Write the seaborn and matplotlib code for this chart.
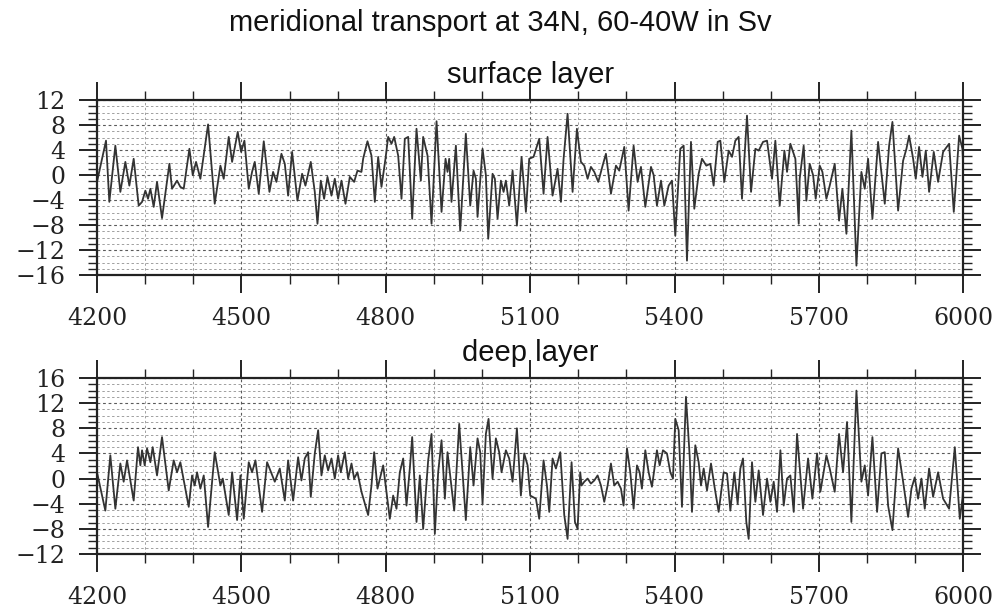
import matplotlib
matplotlib.use("Agg")
import matplotlib.pyplot as plt
from matplotlib.ticker import MultipleLocator
import seaborn as sns
import pandas as pd

# Surface layer transport (Sv) by model year
surface_year = [
    4200, 4218.7, 4225.6, 4238.1, 4248.5, 4258.9, 4267.2, 4276.2, 4286.6, 4293.6,
    4300.5, 4306.0, 4310.9, 4317.8, 4324.7, 4335.1, 4350.4, 4355.9, 4366.3, 4373.2,
    4380.2, 4392.0, 4398.9, 4405.8, 4414.8, 4430.8, 4444.6, 4456.4, 4463.3, 4473.7,
    4480.7, 4492.4, 4499.4, 4506.3, 4515.3, 4522.2, 4527.8, 4536.1, 4546.5, 4558.3,
    4565.9, 4572.8, 4583.2, 4590.2, 4597.1, 4605.4, 4616.5, 4626.2, 4633.1, 4644.2,
    4652.5, 4658.1, 4665.0, 4671.9, 4678.9, 4687.2, 4694.1, 4701.0, 4708.0, 4716.3,
    4725.3, 4734.3, 4741.2, 4749.5, 4753.0, 4762.0, 4770.3, 4777.3, 4784.2, 4791.1,
    4799.4, 4805.0, 4811.9, 4817.5, 4825.8, 4832.7, 4839.6, 4846.6, 4854.9, 4863.9,
    4872.9, 4877.7, 4886.8, 4895.1, 4905.5, 4915.9, 4924.2, 4928.3, 4931.8, 4936.6,
    4945.7, 4954.7, 4966.4, 4975.5, 4982.4, 4987.3, 4990.7, 5001.1, 5008.0, 5012.9,
    5021.9, 5026.7, 5032.3, 5039.2, 5044.8, 5049.6, 5056.5, 5063.5, 5072.5, 5082.2,
    5091.2, 5098.1, 5107.1, 5118.9, 5127.9, 5136.2, 5146.6, 5157.0, 5164.0, 5169.5,
    5177.8, 5188.2, 5197.2, 5205.5, 5212.5, 5219.4, 5226.3, 5233.3, 5241.6, 5250.6,
    5257.5, 5267.9, 5278.3, 5285.2, 5295.6, 5304.6, 5315.0, 5323.3, 5330.3, 5339.3,
    5351.1, 5356.6, 5363.5, 5371.9, 5378.8, 5387.8, 5394.7, 5401.6, 5412.0, 5419.0,
    5425.9, 5434.2, 5441.1, 5450.2, 5457.1, 5466.1, 5474.4, 5481.3, 5489.7, 5495.2,
    5503.5, 5512.5, 5519.5, 5526.4, 5533.3, 5540.2, 5550.6, 5559.0, 5568.0, 5574.9,
    5583.9, 5592.2, 5602.6, 5609.5, 5618.6, 5628.3, 5633.8, 5640.7, 5651.1, 5658.1,
    5660.1, 5668.4, 5674.0, 5680.9, 5687.9, 5693.4, 5701.7, 5707.3, 5715.6, 5722.5,
    5732.9, 5741.9, 5748.8, 5757.2, 5767.5, 5778.0, 5788.3, 5795.3, 5802.2, 5811.2,
    5823.0, 5836.9, 5845.9, 5852.8, 5864.6, 5875.0, 5881.9, 5887.4, 5895.8, 5901.3,
    5908.2, 5915.2, 5922.1, 5929.0, 5938.7, 5947.7, 5958.1, 5970.6, 5980.3, 5991.4,
    5998.3, 6000,
]
surface_sv = [
    -1.1, 5.5, -4.3, 4.7, -2.7, 2.1, -1.7, 2.6, -4.9, -4.3,
    -2.5, -3.8, -2.2, -5.1, -1.1, -6.9, 1.8, -2.2, -0.9, -1.9,
    -2.2, 4.2, 0.0, 2.1, -0.6, 8.1, -4.6, 1.5, -0.6, 6.1,
    2.1, 6.9, 3.7, 5.5, -2.2, 0.5, 2.1, -3.0, 5.4, -2.7,
    0.5, -1.1, 3.4, 1.8, -3.3, 3.7, -4.1, 0.2, -1.7, 2.1,
    -2.7, -7.8, -0.9, -3.8, -0.3, -3.3, -0.6, -3.8, -0.9, -4.6,
    -0.3, -1.1, 0.7, 0.5, 2.6, 5.4, 3.1, -4.3, 2.9, -1.9,
    2.6, 6.1, 5.0, 6.1, 3.1, -3.8, 5.8, 6.1, -7.0, 7.4,
    -0.9, 6.1, 3.1, -7.8, 8.6, -5.9, 2.6, 0.5, 2.6, -4.3,
    4.7, -8.9, 6.6, -4.9, 0.7, -0.6, -6.7, 4.2, 0.0, -10.2,
    0.2, -0.6, -7.0, -0.9, -2.7, -0.9, -4.9, 0.7, -8.1, 2.9,
    -5.9, 2.6, 2.9, 5.8, -3.0, 6.1, -3.3, 1.0, -4.3, 2.6,
    9.8, -2.7, 7.4, 2.1, 1.5, -0.6, 1.3, 0.5, -1.1, 1.5,
    3.4, -3.0, 1.5, 0.7, 4.5, -5.7, 4.7, -1.1, 1.3, -5.1,
    1.3, 0.0, -4.9, -0.9, -4.9, -1.7, -0.9, -9.7, 4.2, 4.7,
    -13.7, 5.3, -5.4, 0.2, 2.6, 1.5, 1.8, -1.7, 5.3, 5.5,
    -1.1, 3.9, 2.9, 5.5, 6.1, -3.8, 9.5, -2.7, 4.2, 3.9,
    5.3, 5.5, -0.6, 5.5, -4.9, 3.9, 0.5, 5.0, 2.6, -7.8,
    -0.6, 4.7, -4.1, 1.8, 0.0, -3.8, 1.5, 0.5, -3.8, -1.7,
    1.8, -7.3, -2.2, -9.4, 7.1, -14.5, 0.5, -2.2, 2.6, -7.0,
    5.3, -4.6, 4.7, 8.5, -5.7, 2.3, 4.2, 6.3, 2.6, -0.6,
    4.5, -0.3, 3.9, -2.7, 3.7, -1.1, 3.7, 5.0, -5.9, 6.3,
    4.2, 1.0,
]

# Deep layer transport (Sv) by model year
deep_year = [
    4200, 4217.3, 4227.7, 4238.1, 4248.5, 4255.4, 4262.4, 4276.2, 4285.2, 4290.1,
    4293.6, 4299.1, 4304.0, 4310.9, 4315.7, 4324.7, 4335.1, 4349.0, 4359.4, 4366.3,
    4373.2, 4390.6, 4397.5, 4403.0, 4407.9, 4414.8, 4421.8, 4430.8, 4444.6, 4456.4,
    4461.3, 4473.7, 4480.7, 4491.1, 4498.0, 4504.9, 4515.3, 4522.2, 4529.2, 4543.0,
    4553.4, 4569.4, 4579.8, 4590.2, 4597.1, 4607.5, 4617.9, 4624.8, 4631.7, 4638.7,
    4644.2, 4652.5, 4659.5, 4666.4, 4673.3, 4680.2, 4687.2, 4694.1, 4701.0, 4706.6,
    4714.9, 4721.8, 4728.8, 4734.3, 4741.2, 4749.5, 4763.4, 4770.3, 4775.9, 4782.8,
    4794.6, 4801.5, 4808.4, 4815.4, 4822.3, 4829.2, 4836.2, 4843.1, 4850.0, 4854.9,
    4863.9, 4870.8, 4877.7, 4888.1, 4895.1, 4902.0, 4908.9, 4915.9, 4922.8, 4928.3,
    4942.2, 4952.6, 4959.5, 4966.4, 4975.5, 4982.4, 4990.7, 4996.3, 5001.1, 5008.0,
    5013.6, 5021.9, 5028.8, 5035.7, 5040.6, 5049.6, 5056.5, 5063.5, 5072.5, 5080.8,
    5087.7, 5094.7, 5100.2, 5112.0, 5118.9, 5127.9, 5134.9, 5139.7, 5146.6, 5153.6,
    5162.6, 5170.9, 5177.8, 5186.1, 5193.1, 5198.6, 5204.1, 5206.9, 5212.5, 5219.4,
    5226.3, 5233.3, 5240.2, 5247.1, 5254.0, 5261.0, 5267.9, 5274.8, 5281.8, 5288.7,
    5294.2, 5301.2, 5308.1, 5315.0, 5322.0, 5327.5, 5332.3, 5339.3, 5346.2, 5353.1,
    5363.5, 5369.1, 5376.0, 5384.3, 5391.3, 5396.8, 5401.6, 5408.6, 5415.5, 5423.8,
    5431.4, 5436.3, 5443.2, 5450.2, 5455.0, 5460.6, 5467.5, 5475.8, 5482.7, 5491.7,
    5502.1, 5509.1, 5516.0, 5524.3, 5531.2, 5536.8, 5542.3, 5549.2, 5554.1, 5561.0,
    5568.0, 5574.9, 5583.9, 5592.2, 5599.2, 5606.1, 5613.0, 5620.0, 5626.9, 5633.8,
    5640.7, 5647.7, 5654.6, 5667.1, 5677.5, 5686.5, 5696.2, 5703.1, 5715.6, 5722.5,
    5732.9, 5741.9, 5750.2, 5758.5, 5767.5, 5778.0, 5788.3, 5795.3, 5802.2, 5811.2,
    5820.9, 5829.9, 5836.9, 5843.8, 5852.8, 5864.6, 5875.0, 5885.4, 5892.3, 5899.2,
    5906.1, 5913.1, 5920.0, 5929.0, 5937.3, 5947.7, 5958.1, 5970.6, 5982.4, 5992.8,
    5998.3, 6000,
]
deep_sv = [
    1.0, -5.1, 3.7, -4.8, 2.4, -0.5, 2.9, -3.5, 5.0, 2.1,
    4.5, 2.1, 4.8, 2.6, 5.0, 0.5, 6.6, -1.9, 2.9, 1.0,
    2.6, -4.5, 0.5, -1.1, 1.0, -1.6, 0.5, -7.7, 4.2, -1.1,
    0.0, -5.8, 1.0, -6.6, 0.5, -6.4, 2.6, 1.0, 2.9, -5.3,
    2.6, -0.5, 1.6, -3.5, 2.9, -3.5, 3.4, -0.3, 3.2, 4.2,
    -2.9, 4.0, 7.7, 0.5, 3.7, 1.3, 3.2, 0.0, 3.7, 1.0,
    4.2, 0.0, 2.4, 0.0, 1.0, -2.1, -5.8, -1.1, 4.2, -1.6,
    2.1, -2.1, -6.4, -2.7, -4.8, 1.0, 3.2, -4.3, 1.6, 6.6,
    -6.9, 0.5, -8.0, 2.9, 7.1, -8.8, 1.0, 6.1, -3.2, 4.2,
    -5.1, 8.7, 1.0, -6.6, 5.0, -1.1, 6.4, 4.2, -4.0, 7.1,
    9.5, 0.0, 6.4, 4.2, 1.0, 4.5, 3.2, -0.5, 8.0, -2.7,
    4.0, 2.1, -2.7, -3.2, -6.4, 2.9, -1.1, -5.3, 3.2, 1.6,
    4.2, -5.8, -9.6, 2.6, -6.9, -8.0, 1.0, -1.1, -0.5, 0.0,
    -0.8, -0.3, 0.5, -1.1, -3.7, -1.1, 2.4, -1.1, -0.5, -1.6,
    -4.3, 4.8, 1.0, -4.8, 2.1, 1.0, -1.6, 4.5, 1.0, -1.3,
    4.5, 2.1, 4.5, 4.0, 1.0, 0.0, 9.5, 7.7, -4.5, 13.0,
    3.7, -5.3, 5.3, 2.6, -1.1, 1.6, -1.9, 2.4, -1.1, -5.3,
    1.0, 0.8, -5.1, 1.0, -4.0, 1.6, 3.2, -6.9, -9.6, 2.6,
    -3.7, 1.3, -5.8, 0.0, -3.7, -0.5, -5.3, 4.5, -4.3, 0.0,
    0.5, -5.3, 7.1, -4.8, 3.2, -3.2, 4.0, -2.1, 3.7, 1.6,
    -2.1, 7.1, 1.0, 9.0, -6.9, 14.0, -0.5, 2.1, -2.7, 6.6,
    -5.3, 4.0, 4.2, -4.3, -8.2, 4.8, -0.5, -6.1, -1.6, 0.2,
    -3.2, 0.0, -4.8, 1.6, -2.9, 1.0, -3.2, -4.8, 5.0, -6.4,
    -3.2, -1.0,
]

main_title = "meridional transport at 34N, 60-40W in Sv"
panel_titles = ["surface layer", "deep layer"]
y_limits = [(-16, 12), (-12, 16)]
x_ticks = [4200, 4500, 4800, 5100, 5400, 5700, 6000]

sns.set_style("white")
plt.rcParams["axes.unicode_minus"] = True

fig = plt.figure(figsize=(9.98, 6.11), dpi=100)
ax_top = fig.add_axes([0.0972, 0.5499, 0.868, 0.2864])
ax_bot = fig.add_axes([0.0972, 0.0933, 0.868, 0.2880])

frames = [
    pd.DataFrame({"year": surface_year, "sv": surface_sv}),
    pd.DataFrame({"year": deep_year, "sv": deep_sv}),
]

for ax, df, title, ylim in zip([ax_top, ax_bot], frames, panel_titles, y_limits):
    sns.lineplot(data=df, x="year", y="sv", ax=ax, color="#333333",
                 linewidth=1.3, sort=False, estimator=None)
    ax.set_xlim(4200, 6000)
    ax.set_ylim(*ylim)
    ax.set_xticks(x_ticks)
    ax.xaxis.set_minor_locator(MultipleLocator(100))
    ax.yaxis.set_major_locator(MultipleLocator(4))
    ax.yaxis.set_minor_locator(MultipleLocator(1))
    ax.set_xlabel("")
    ax.set_ylabel("")

    ax.grid(which="minor", axis="both", color="#a0a0a0", linestyle=(0, (2.5, 2.5)),
            linewidth=0.7)
    ax.grid(which="major", axis="both", color="#5a5a5a", linestyle=(0, (2.5, 2.5)),
            linewidth=0.8)
    ax.set_axisbelow(True)

    for s in ax.spines.values():
        s.set_visible(True)
        s.set_linewidth(1.6)
        s.set_color("#222222")

    ax.tick_params(which="major", direction="out", length=13, width=1.4,
                   top=True, right=True, bottom=True, left=True,
                   labelsize=17, pad=10, color="#222222", labelcolor="#222222")
    ax.tick_params(which="minor", direction="out", length=6.5, width=1.0,
                   top=True, right=True, bottom=True, left=True, color="#222222")
    for lab in ax.get_xticklabels() + ax.get_yticklabels():
        lab.set_family("DejaVu Serif")

    ax.set_title(title, fontsize=21, family="Liberation Sans", pad=12,
                 color="#111111")

fig.text(0.501, 0.963, main_title, ha="center", va="center", fontsize=21,
         family="Liberation Sans", color="#111111")

fig.savefig("out.png", dpi=100)
